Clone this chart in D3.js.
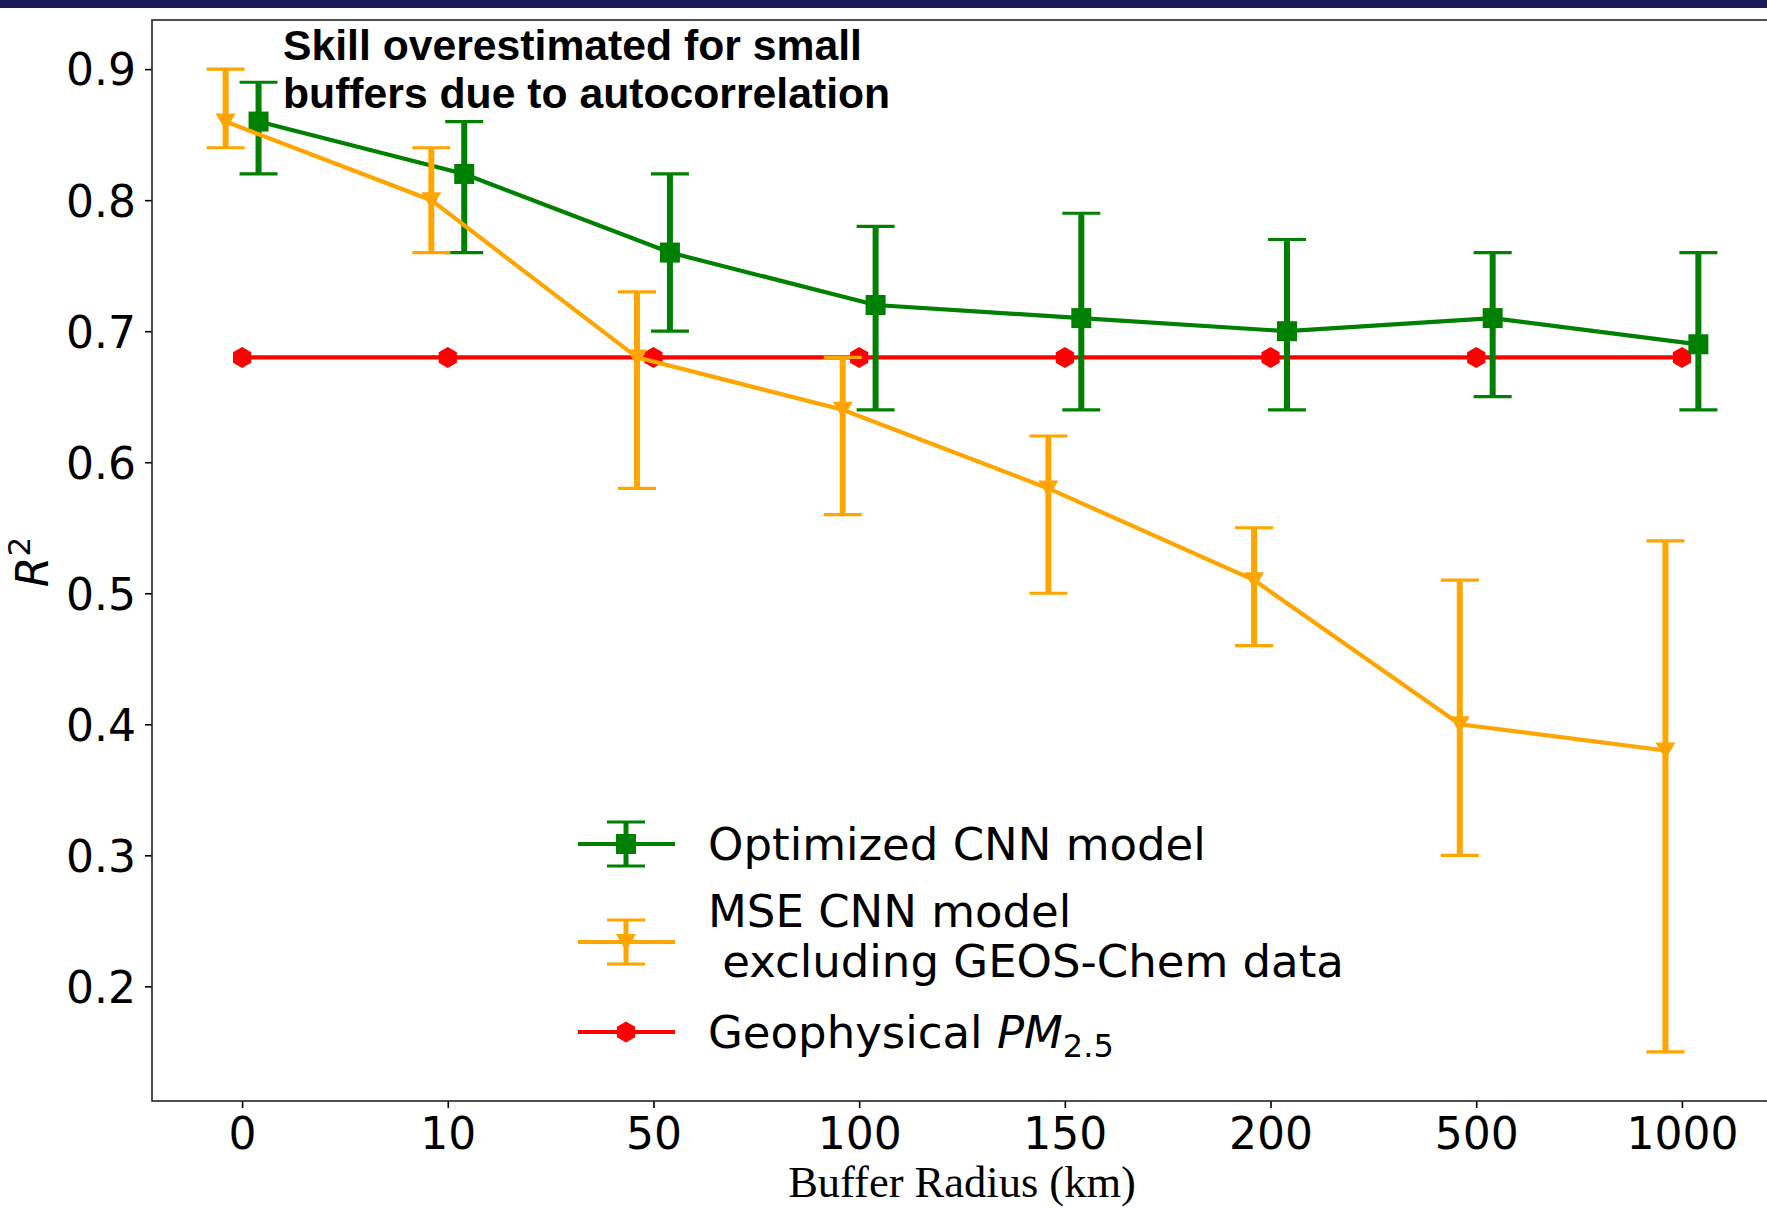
<!DOCTYPE html>
<html lang="en">

<head>
    <meta charset="UTF-8">
    <script src="https://d3js.org/d3.v7.min.js"></script>
    <style>
        body {
            margin: 0;
            background: white;
        }

        svg {
            display: block;
            overflow: hidden;
        }

        .tick text {
            font-family: "DejaVu Sans", sans-serif;
            font-size: 44px;
            fill: black;
        }

        .tick line {
            stroke: black;
            stroke-width: 1.6;
        }

        .legend-text {
            font-family: "DejaVu Sans", sans-serif;
            font-size: 45px;
        }
    </style>
</head>

<body>

    <svg id="canvas" width="1767" height="1209"></svg>

    <script>
        // x categories (buffer radius, km)
        const radiusLabels = ["0", "10", "50", "100", "150", "200", "500", "1000"];

        // Optimized CNN model
        const cnnValues = [0.86, 0.82, 0.76, 0.72, 0.71, 0.70, 0.71, 0.69];
        const cnnLower = [0.82, 0.76, 0.70, 0.64, 0.64, 0.64, 0.65, 0.64];
        const cnnUpper = [0.89, 0.86, 0.82, 0.78, 0.79, 0.77, 0.76, 0.76];

        // MSE CNN model excluding GEOS-Chem data
        const mseValues = [0.86, 0.80, 0.68, 0.64, 0.58, 0.51, 0.40, 0.38];
        const mseLower = [0.84, 0.76, 0.58, 0.56, 0.50, 0.46, 0.30, 0.15];
        const mseUpper = [0.90, 0.84, 0.73, 0.68, 0.62, 0.55, 0.51, 0.54];

        // Geophysical PM2.5
        const geoValues = [0.68, 0.68, 0.68, 0.68, 0.68, 0.68, 0.68, 0.68];

        const yTicks = [0.2, 0.3, 0.4, 0.5, 0.6, 0.7, 0.8, 0.9];

        let svg = d3.select("#canvas");

        let margins = { top: 20, left: 152, bottom: 108 };
        let chartWidth = 1620;
        let chartHeight = 1209 - margins.top - margins.bottom;

        // navy strip on top of the slide
        svg.append("rect")
            .attr("x", 0).attr("y", 0)
            .attr("width", 1767).attr("height", 8)
            .attr("fill", "#1b1a5e");

        let chartArea = svg.append("g")
            .attr("transform", `translate(${margins.left},${margins.top})`);

        const xScale = d3.scaleLinear()
            .domain([-0.438, radiusLabels.length - 1 + 0.438])
            .range([0, chartWidth]);

        const yScale = d3.scaleLinear()
            .domain([0.1125, 0.9375])
            .range([chartHeight, 0]);

        // axes
        chartArea.append("g")
            .attr("transform", `translate(0, ${chartHeight})`)
            .call(d3.axisBottom(xScale)
                .tickValues(d3.range(radiusLabels.length))
                .tickFormat(i => radiusLabels[i])
                .tickSize(7).tickSizeOuter(0).tickPadding(10))
            .call(g => g.select(".domain").remove());

        chartArea.append("g")
            .call(d3.axisLeft(yScale)
                .tickValues(yTicks)
                .tickFormat(d3.format(".1f"))
                .tickSize(7).tickSizeOuter(0).tickPadding(9))
            .call(g => g.select(".domain").remove())
            .selectAll("text").attr("dy", "0.36em");

        // spines (right one falls outside the picture)
        chartArea.append("rect")
            .attr("x", 0).attr("y", 0)
            .attr("width", chartWidth).attr("height", chartHeight)
            .attr("fill", "none")
            .attr("stroke", "#222")
            .attr("stroke-width", 1.6);

        // marker shapes
        function squarePath(cx, cy) {
            return `M${cx - 10},${cy - 10}h20v20h-20Z`;
        }
        function triDownPath(cx, cy) {
            return `M${cx - 10},${cy - 8}L${cx + 10},${cy - 8}L${cx},${cy + 9}Z`;
        }
        function hexPath(cx, cy) {
            let pts = d3.range(6).map(k => {
                let a = Math.PI / 2 + k * Math.PI / 3;
                return [cx + 10.5 * Math.cos(a), cy - 10.5 * Math.sin(a)];
            });
            return "M" + pts.join("L") + "Z";
        }

        const series = [
            { name: "geo", values: geoValues, color: "red", shift: 0, marker: hexPath },
            { name: "cnn", values: cnnValues, lower: cnnLower, upper: cnnUpper, color: "green", shift: 0.08, marker: squarePath },
            { name: "mse", values: mseValues, lower: mseLower, upper: mseUpper, color: "orange", shift: -0.08, marker: triDownPath }
        ];

        series.forEach(s => {
            let g = chartArea.append("g").attr("class", "series-" + s.name);
            let idx = d3.range(s.values.length);

            const lineGenerator = d3.line()
                .x(i => xScale(i + s.shift))
                .y(i => yScale(s.values[i]));

            g.append("path")
                .attr("d", lineGenerator(idx))
                .attr("fill", "none")
                .attr("stroke", s.color)
                .attr("stroke-width", 4.2);

            if (s.lower) {
                g.selectAll(".ebar")
                    .data(idx)
                    .join("line")
                    .attr("class", "ebar")
                    .attr("x1", i => xScale(i + s.shift))
                    .attr("x2", i => xScale(i + s.shift))
                    .attr("y1", i => yScale(s.lower[i]))
                    .attr("y2", i => yScale(s.upper[i]))
                    .attr("stroke", s.color)
                    .attr("stroke-width", 6);

                [s.lower, s.upper].forEach(bound => {
                    g.selectAll(null)
                        .data(idx)
                        .join("line")
                        .attr("x1", i => xScale(i + s.shift) - 19)
                        .attr("x2", i => xScale(i + s.shift) + 19)
                        .attr("y1", i => yScale(bound[i]))
                        .attr("y2", i => yScale(bound[i]))
                        .attr("stroke", s.color)
                        .attr("stroke-width", 3.2);
                });
            }

            g.selectAll(".marker")
                .data(idx)
                .join("path")
                .attr("class", "marker")
                .attr("d", i => s.marker(xScale(i + s.shift), yScale(s.values[i])))
                .attr("fill", s.color);
        });

        // annotation
        let note = svg.append("text")
            .attr("font-family", "Liberation Sans, Arial, sans-serif")
            .attr("font-weight", "bold")
            .attr("font-size", 42.7)
            .attr("fill", "black");
        note.append("tspan").attr("x", 283).attr("y", 60).text("Skill overestimated for small");
        note.append("tspan").attr("x", 283).attr("y", 108).text("buffers due to autocorrelation");

        // axis labels
        svg.append("text")
            .attr("x", 962).attr("y", 1197)
            .attr("text-anchor", "middle")
            .attr("font-family", "Liberation Serif, Times New Roman, serif")
            .attr("font-size", 44.5)
            .text("Buffer Radius (km)");

        let yLab = svg.append("text")
            .attr("transform", "translate(48,562) rotate(-90)")
            .attr("text-anchor", "middle")
            .attr("font-family", "DejaVu Sans, sans-serif")
            .attr("font-size", 44);
        yLab.append("tspan").attr("font-style", "italic").text("R");
        yLab.append("tspan").attr("font-size", 31).attr("dy", -18).text("2");

        // legend
        let legend = svg.append("g");
        const legendRows = [
            { s: series[1], y: 844, lines: ["Optimized CNN model"] },
            { s: series[2], y: 942, lines: ["MSE CNN model", "\u00a0excluding GEOS-Chem data"] },
            { s: series[0], y: 1032, lines: null }
        ];
        legendRows.forEach(r => {
            let cx = 626;
            legend.append("line")
                .attr("x1", 578).attr("x2", 675)
                .attr("y1", r.y).attr("y2", r.y)
                .attr("stroke", r.s.color).attr("stroke-width", 4.2);
            if (r.s.lower) {
                legend.append("line")
                    .attr("x1", cx).attr("x2", cx)
                    .attr("y1", r.y - 22).attr("y2", r.y + 22)
                    .attr("stroke", r.s.color).attr("stroke-width", 5);
                [-22, 22].forEach(d => {
                    legend.append("line")
                        .attr("x1", cx - 19).attr("x2", cx + 19)
                        .attr("y1", r.y + d).attr("y2", r.y + d)
                        .attr("stroke", r.s.color).attr("stroke-width", 3.2);
                });
            }
            legend.append("path")
                .attr("d", r.s.marker(cx, r.y))
                .attr("fill", r.s.color);

            if (r.lines && r.lines.length === 1) {
                legend.append("text").attr("class", "legend-text")
                    .attr("x", 708).attr("y", r.y + 16).text(r.lines[0]);
            } else if (r.lines) {
                legend.append("text").attr("class", "legend-text")
                    .attr("x", 708).attr("y", r.y - 15).text(r.lines[0]);
                legend.append("text").attr("class", "legend-text")
                    .attr("x", 708).attr("y", r.y + 35).text(r.lines[1]);
            } else {
                let t = legend.append("text").attr("class", "legend-text")
                    .attr("x", 708).attr("y", r.y + 16);
                t.append("tspan").text("Geophysical ");
                t.append("tspan").attr("font-style", "italic").text("PM");
                t.append("tspan").attr("font-size", 32).attr("dy", 9).text("2.5");
            }
        });
    </script>
</body>

</html>
